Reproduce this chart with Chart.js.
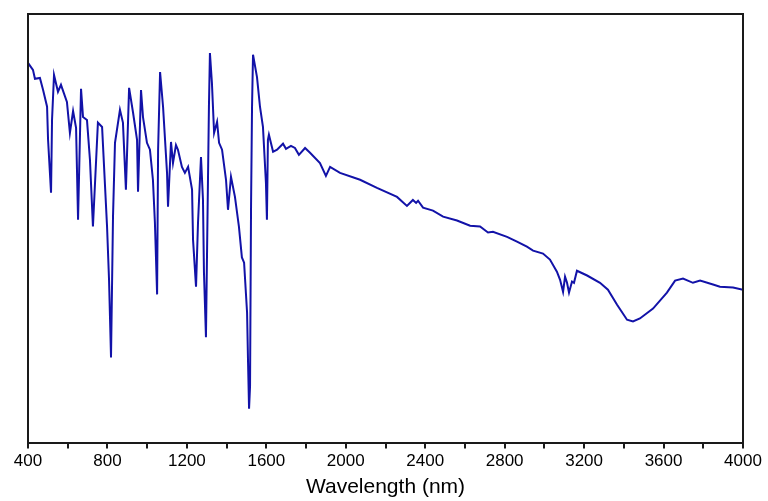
<!DOCTYPE html>
<html>
<head>
<meta charset="utf-8">
<script src="https://cdn.jsdelivr.net/npm/chart.js@4/dist/chart.umd.min.js"></script>
<style>
  html, body { margin: 0; padding: 0; background: #fff; }
  #wrap { width: 768px; height: 501px; }
</style>
</head>
<body>
<div id="wrap"><canvas id="spec"></canvas></div>
<script>
// wavelengths (nm) and signal (arbitrary units, 0..100)
const wavelengths = [
  400, 425, 435, 460, 476, 496, 501, 516, 521, 531, 551, 566, 596, 611, 627, 642, 652, 667, 677, 697,
  712, 727, 752, 773, 798, 808, 818, 828, 838, 863, 878, 893, 909, 929, 949, 954, 969, 979, 999, 1014,
  1029, 1039, 1050, 1055, 1065, 1080, 1100, 1105, 1120, 1130, 1145, 1155, 1175, 1190, 1206, 1226, 1231, 1246, 1256, 1271,
  1281, 1286, 1296, 1306, 1311, 1316, 1326, 1337, 1352, 1362, 1377, 1397, 1407, 1422, 1442, 1462, 1477, 1488, 1503, 1508,
  1513, 1518, 1523, 1528, 1533, 1553, 1568, 1583, 1598, 1603, 1608, 1613, 1634, 1654, 1684, 1699, 1724, 1744, 1764, 1795,
  1820, 1870, 1900, 1921, 1971, 2072, 2157, 2258, 2308, 2338, 2354, 2364, 2389, 2439, 2490, 2560, 2626, 2676, 2716, 2741,
  2812, 2862, 2912, 2943, 2993, 3028, 3063, 3079, 3094, 3104, 3114, 3124, 3139, 3149, 3164, 3215, 3280, 3320, 3366, 3416,
  3446, 3481, 3547, 3617, 3658, 3698, 3748, 3784, 3849, 3884, 3950, 4000
];
const signal = [
  88.6, 87.0, 84.9, 85.1, 82.3, 78.4, 70.7, 58.4, 75.3, 85.8, 81.9, 83.5, 79.5, 72.3, 77.4, 73.5, 52.1, 82.6, 76.0, 75.3,
  66.0, 50.5, 74.7, 73.7, 50.5, 38.1, 20.0, 52.8, 70.0, 77.7, 74.7, 59.1, 82.8, 77.0, 70.7, 58.6, 82.3, 76.0, 70.0, 68.4,
  61.4, 51.4, 34.7, 68.4, 86.5, 78.4, 63.0, 55.1, 70.2, 65.3, 69.5, 68.4, 64.4, 63.0, 64.4, 59.1, 47.4, 36.5, 51.4, 66.7,
  56.7, 39.8, 24.7, 60.7, 78.4, 90.9, 84.0, 72.3, 74.9, 70.0, 68.4, 61.4, 54.4, 62.1, 57.4, 50.5, 43.3, 42.1, 30.5, 18.8,
  8.1, 13.3, 55.1, 78.4, 90.5, 85.3, 78.4, 73.7, 60.7, 52.1, 70.7, 71.9, 67.9, 68.4, 69.8, 68.6, 69.3, 68.8, 67.2, 68.8,
  67.7, 65.3, 62.3, 64.4, 63.0, 61.4, 59.5, 57.4, 55.3, 56.7, 56.0, 56.5, 54.9, 54.2, 52.8, 51.9, 50.7, 50.5, 49.1, 49.3,
  48.1, 47.0, 45.8, 44.9, 44.2, 42.8, 40.0, 38.1, 35.3, 38.8, 37.4, 35.1, 37.7, 37.4, 40.2, 39.1, 37.4, 35.8, 32.3, 28.8,
  28.4, 29.1, 31.4, 35.1, 37.9, 38.4, 37.4, 37.9, 37.0, 36.5, 36.3, 35.8
];
const xMin = 400, xMax = 4000, xStep = 200, xLabelEvery = 400;

// box round the plot area (Chart.js only draws the axes it has)
const frameBox = {
  id: 'frameBox',
  afterDraw(chart) {
    const a = chart.chartArea, c = chart.ctx;
    c.save();
    c.strokeStyle = '#1a1a1a';
    c.lineWidth = 2;
    c.strokeRect(Math.round(a.left), Math.round(a.top),
                 Math.round(a.right - a.left), Math.round(a.bottom - a.top));
    c.restore();
  }
};

new Chart(document.getElementById('spec').getContext('2d'), {
  type: 'line',
  data: {
    datasets: [{
      data: wavelengths.map((w, i) => ({ x: w, y: signal[i] })),
      borderColor: '#1212a8',
      borderWidth: 2,
      pointRadius: 0,
      tension: 0,
      fill: false
    }]
  },
  options: {
    responsive: true,
    maintainAspectRatio: false,
    animation: false,
    layout: { padding: { left: 28, right: 25, top: 14, bottom: 1 } },
    plugins: { legend: { display: false }, tooltip: { enabled: false } },
    scales: {
      x: {
        type: 'linear',
        min: xMin,
        max: xMax,
        ticks: {
          stepSize: xStep,
          autoSkip: false,
          maxRotation: 0,
          padding: 3,
          color: '#000',
          font: { family: 'Liberation Sans, Arial', size: 17 },
          callback: v => (v % xLabelEvery === 0 ? String(v) : '')
        },
        grid: { drawOnChartArea: false, drawTicks: true, tickLength: 5, color: '#1a1a1a', lineWidth: 2 },
        border: { display: true, color: '#1a1a1a', width: 2 },
        title: {
          display: true,
          text: 'Wavelength (nm)',
          color: '#000',
          font: { family: 'Liberation Sans, Arial', size: 21 },
          padding: { top: 0, bottom: 0 }
        }
      },
      y: {
        display: false,
        min: 0,
        max: 100
      }
    }
  },
  plugins: [frameBox]
});
</script>
</body>
</html>
